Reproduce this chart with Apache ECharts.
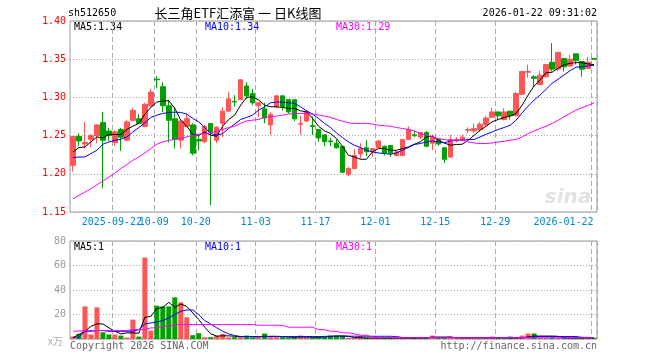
<!DOCTYPE html>
<html><head><meta charset="utf-8">
<script src="https://cdn.jsdelivr.net/npm/echarts@6/dist/echarts.min.js"></script>
<style>html,body{margin:0;padding:0;background:#fff}#c{width:660px;height:360px}</style>
</head><body><div id="c"></div>
<script>
const dates = [
'2025-09-11','2025-09-12','2025-09-15','2025-09-16','2025-09-17','2025-09-18','2025-09-19','2025-09-22','2025-09-23','2025-09-24',
'2025-09-25','2025-09-26','2025-09-29','2025-09-30','2025-10-09','2025-10-10','2025-10-13','2025-10-14','2025-10-15','2025-10-16',
'2025-10-17','2025-10-20','2025-10-21','2025-10-22','2025-10-23','2025-10-24','2025-10-27','2025-10-28','2025-10-29','2025-10-30',
'2025-10-31','2025-11-03','2025-11-04','2025-11-05','2025-11-06','2025-11-07','2025-11-10','2025-11-11','2025-11-12','2025-11-13',
'2025-11-14','2025-11-17','2025-11-18','2025-11-19','2025-11-20','2025-11-21','2025-11-24','2025-11-25','2025-11-26','2025-11-27',
'2025-11-28','2025-12-01','2025-12-02','2025-12-03','2025-12-04','2025-12-05','2025-12-08','2025-12-09','2025-12-10','2025-12-11',
'2025-12-12','2025-12-15','2025-12-16','2025-12-17','2025-12-18','2025-12-19','2025-12-22','2025-12-23','2025-12-24','2025-12-25',
'2025-12-26','2025-12-29','2025-12-30','2025-12-31','2026-01-05','2026-01-06','2026-01-07','2026-01-08','2026-01-09','2026-01-12',
'2026-01-13','2026-01-14','2026-01-15','2026-01-16','2026-01-19','2026-01-20','2026-01-21','2026-01-22'];

const opens = [
1.211,1.249,1.239,1.245,1.250,1.267,1.256,1.241,1.258,1.244,
1.270,1.272,1.262,1.289,1.324,1.314,1.289,1.272,1.244,1.262,
1.264,1.245,1.242,1.266,1.244,1.266,1.282,1.295,1.297,1.315,
1.305,1.289,1.285,1.264,1.288,1.302,1.297,1.297,1.265,1.269,
1.263,1.258,1.251,1.243,1.240,1.236,1.199,1.207,1.226,1.234,
1.230,1.234,1.236,1.237,1.224,1.224,1.245,1.251,1.248,1.254,
1.240,1.245,1.234,1.222,1.243,1.244,1.257,1.256,1.258,1.264,
1.274,1.281,1.271,1.282,1.276,1.304,1.333,1.327,1.317,1.327,
1.346,1.337,1.351,1.341,1.357,1.347,1.338,1.351];
const closes = [
1.249,1.243,1.241,1.250,1.264,1.244,1.250,1.255,1.248,1.268,
1.283,1.266,1.291,1.307,1.323,1.289,1.270,1.245,1.269,1.272,
1.227,1.243,1.262,1.255,1.261,1.282,1.298,1.294,1.323,1.302,
1.293,1.293,1.273,1.278,1.302,1.288,1.281,1.272,1.266,1.282,
1.262,1.247,1.242,1.242,1.234,1.202,1.207,1.224,1.233,1.229,
1.233,1.243,1.227,1.227,1.229,1.245,1.258,1.250,1.254,1.236,
1.248,1.239,1.219,1.245,1.245,1.248,1.258,1.259,1.265,1.273,
1.281,1.276,1.281,1.276,1.305,1.334,1.334,1.325,1.329,1.343,
1.337,1.359,1.340,1.350,1.348,1.337,1.346,1.350];
const lows = [
1.203,1.237,1.233,1.235,1.240,1.181,1.243,1.237,1.230,1.243,
1.269,1.265,1.261,1.287,1.312,1.281,1.241,1.233,1.233,1.261,
1.224,1.231,1.240,1.159,1.240,1.248,1.281,1.288,1.297,1.298,
1.290,1.274,1.266,1.251,1.286,1.283,1.279,1.269,1.251,1.268,
1.251,1.242,1.236,1.236,1.233,1.201,1.197,1.206,1.220,1.223,
1.222,1.233,1.224,1.222,1.223,1.223,1.244,1.248,1.245,1.235,
1.231,1.237,1.214,1.221,1.241,1.243,1.253,1.253,1.255,1.262,
1.273,1.271,1.270,1.271,1.275,1.303,1.326,1.314,1.316,1.326,
1.334,1.334,1.334,1.340,1.343,1.327,1.337,1.350];
const highs = [
1.249,1.253,1.268,1.252,1.265,1.281,1.260,1.257,1.260,1.270,
1.286,1.278,1.293,1.311,1.328,1.320,1.297,1.287,1.270,1.279,
1.266,1.251,1.264,1.266,1.262,1.287,1.307,1.303,1.324,1.320,
1.311,1.293,1.293,1.281,1.303,1.302,1.297,1.297,1.276,1.282,
1.275,1.258,1.251,1.247,1.245,1.236,1.209,1.232,1.240,1.244,
1.233,1.244,1.237,1.237,1.229,1.245,1.262,1.256,1.254,1.256,
1.251,1.247,1.235,1.251,1.248,1.251,1.261,1.266,1.268,1.276,
1.286,1.281,1.286,1.282,1.307,1.334,1.343,1.329,1.335,1.343,
1.371,1.359,1.351,1.356,1.357,1.347,1.353,1.351];

const ma5 = [
1.2286,1.2344,1.2351,1.2417,1.2483,1.2470,1.2514,1.2514,1.2514,1.2580,
1.2623,1.2659,1.2781,1.2869,1.2939,1.2952,1.2956,1.2856,1.2702,1.2623,
1.2514,1.2505,1.2548,1.2505,1.2492,1.2623,1.2711,1.2768,1.2899,1.3000,
1.3008,1.2965,1.2899,1.2877,1.2877,1.2869,1.2856,1.2856,1.2824,1.2811,
1.2725,1.2623,1.2562,1.2527,1.2462,1.2361,1.2242,1.2220,1.2190,1.2190,
1.2286,1.2330,1.2330,1.2308,1.2308,1.2330,1.2351,1.2387,1.2417,1.2483,
1.2492,1.2439,1.2404,1.2374,1.2383,1.2387,1.2439,1.2505,1.2571,1.2623,
1.2680,1.2711,1.2738,1.2755,1.2790,1.2899,1.3031,1.3149,1.3228,1.3324,
1.3329,1.3382,1.3425,1.3447,1.3455,1.3455,1.3438,1.3430];
const ma10 = [
1.2212,1.2220,1.2220,1.2265,1.2308,1.2387,1.2417,1.2439,1.2453,1.2483,
1.2548,1.2606,1.2667,1.2738,1.2768,1.2790,1.2803,1.2807,1.2803,1.2781,
1.2725,1.2680,1.2606,1.2527,1.2505,1.2527,1.2593,1.2650,1.2711,1.2738,
1.2768,1.2834,1.2877,1.2930,1.2939,1.2939,1.2930,1.2922,1.2877,1.2824,
1.2781,1.2725,1.2659,1.2606,1.2535,1.2475,1.2417,1.2374,1.2344,1.2308,
1.2286,1.2273,1.2265,1.2255,1.2273,1.2308,1.2344,1.2383,1.2396,1.2417,
1.2430,1.2417,1.2404,1.2430,1.2439,1.2439,1.2449,1.2449,1.2483,1.2518,
1.2548,1.2580,1.2606,1.2636,1.2702,1.2798,1.2886,1.2965,1.3031,1.3106,
1.3184,1.3237,1.3293,1.3350,1.3395,1.3403,1.3412,1.3420];
const ma30 = [
1.1673,1.1717,1.1760,1.1805,1.1857,1.1905,1.1957,1.2010,1.2068,1.2120,
1.2177,1.2220,1.2273,1.2330,1.2387,1.2417,1.2439,1.2449,1.2462,1.2483,
1.2505,1.2518,1.2527,1.2535,1.2562,1.2580,1.2606,1.2623,1.2659,1.2693,
1.2702,1.2711,1.2738,1.2746,1.2755,1.2768,1.2781,1.2790,1.2790,1.2790,
1.2781,1.2768,1.2755,1.2738,1.2711,1.2689,1.2667,1.2659,1.2659,1.2659,
1.2650,1.2636,1.2628,1.2623,1.2606,1.2593,1.2580,1.2562,1.2527,1.2505,
1.2483,1.2462,1.2449,1.2439,1.2439,1.2439,1.2417,1.2404,1.2396,1.2396,
1.2404,1.2417,1.2426,1.2439,1.2449,1.2483,1.2527,1.2562,1.2593,1.2623,
1.2659,1.2702,1.2746,1.2790,1.2834,1.2864,1.2895,1.2930];

const volumes = [
2,4.2,26.6,3.7,25.8,5.5,3.7,3.7,2.8,1.2,
15.8,2,66.5,6.9,27.2,26.6,26.6,34,29.9,17.7,
3.1,4.7,1.5,1.5,2.8,4.2,1.2,1.5,2,2.8,
1.2,1.5,4.5,1.5,1.5,1.5,1,1.5,2.8,1.5,
1.2,1.5,1.5,2.8,2.8,2.8,1,1,2.3,1.2,
1,1.2,1,1,1,1,1,1,1,1,
2.8,1,1,2,1.5,1.2,1.2,1.2,1.2,1,
2,1.2,1.2,2,1.2,2.8,4.5,4.5,1.2,1.2,
1.2,1.2,1.2,1.2,1.2,1.2,1.8,1];
const volMa5 = [
1,3.7,6.3,10.4,12.3,12.3,9.1,6.3,4.2,5,
5,4.7,17.7,18.5,24.8,25.8,29.9,25.8,28.6,26.6,
21.3,15.8,9.6,4.2,2.3,2.6,2.6,2.2,2,2,
1.8,1.8,2.2,2.2,2.2,2,1.5,1.5,1.6,1.6,
1.5,1.5,1.6,2,2.4,2.4,2.2,1.2,1,0.8,
0.8,0.8,0.8,0.8,0.8,0.8,0.8,0.8,0.8,0.8,
1.5,1.6,1.6,1.6,1,0.9,0.9,0.9,0.9,0.9,
0.9,0.9,0.9,0.9,0.9,0.9,1.8,2.4,2.4,2.4,
2.4,2.2,1,0.8,0.8,0.8,0.8,0.8];
const volMa10 = [
1.5,1.5,6.3,6.3,6.9,6.9,6.3,6.3,6.3,6.3,
6.3,7.7,12.3,13.1,14,15,17.2,19.9,22.6,23.7,
23.7,19.9,15,12.3,9.1,6.3,4.2,2.8,2,2,
2,2,2,2,2,2,2,2,2,2,
2,2,2.1,2.3,2.3,2.3,2.3,2.3,2.3,2.3,
2.2,2.2,2.2,2.2,2,1.2,1.2,1.2,1.2,1.2,
1.2,1.2,1.2,1.2,1.2,1.2,1.2,1.2,1.2,1.2,
1.2,1.2,1.2,1.2,1.2,1.2,1.2,2,2,2,
2,2,2,2,2,1.4,1.2,1.1];
const volMa30 = [
6.3,6.5,6.7,6.9,6.9,6.9,6.9,6.9,6.9,6.9,
7.7,7.7,7.7,9.1,9.1,10.4,10.4,11.8,11.8,11.8,
11.8,11.8,11.8,11.8,11.8,11.8,11.8,11.8,11.8,11.8,
11.8,11.2,11.2,11.2,11.2,11.2,9.6,9.6,9.6,9.6,
9.6,7.7,7.7,6.3,6.3,5,5,4.2,3.1,3.1,
1.5,1.5,1.5,1.5,1.5,1,1,1,1,1,
1,1,1,1,1,1,1,1,1,1,
1,1,1,1,1,1,1,1,1,1,
1,1,1,1,1,1,1,1];

const gridDates = ['2025-09-22','2025-10-09','2025-10-20','2025-11-03','2025-11-17','2025-12-01','2025-12-15','2025-12-29','2026-01-22'];
const gridLabels = ['2025-09-22','10-09','10-20','11-03','11-17','12-01','12-15','12-29','2026-01-22'];
const priceMin = 1.15, priceMax = 1.40, priceStep = 0.05;
const volMin = 0, volMax = 80, volStep = 20;

const MONO = 'DejaVu Sans Mono';
const UP = '#ff5555', DOWN = '#00a000';
const gridSet = new Set(gridDates);
const isGrid = (i, v) => gridSet.has(dates[i] !== undefined ? dates[i] : v);
// index 0 gets an empty label so the real first label is not treated as the axis's min label
const labelInterval = (i, v) => i === 0 || isGrid(i, v);

const kData = opens.map((o, i) => [o, closes[i], lows[i], highs[i]]);
const volData = volumes.map((v, i) => ({
  value: v,
  itemStyle: { color: closes[i] >= opens[i] ? UP : DOWN }
}));

const vSplit = { show: true, interval: isGrid, lineStyle: { color: '#aaa', type: [5, 3], width: 1 } };
const hSplit = { show: true, lineStyle: { color: '#aaa', type: [1, 2], width: 1 } };

function lineSeries(data, color, xi, yi) {
  return { type: 'line', data, xAxisIndex: xi, yAxisIndex: yi, symbol: 'none', silent: true,
    lineStyle: { color, width: 1 }, itemStyle: { color }, animation: false };
}

function txt(text, x, y, fill, align, font) {
  return { type: 'text', x, y, silent: true,
    style: { text, fill, align: align || 'left', verticalAlign: 'middle', font: font || ('10px ' + MONO) } };
}

const chart = echarts.init(document.getElementById('c'), null, { renderer: 'canvas' });
chart.setOption({
  animation: false,
  backgroundColor: '#fff',
  grid: [
    { left: 70, top: 21, width: 527, height: 191, show: true, borderColor: '#999', borderWidth: 1 },
    { left: 70, top: 241, width: 527, height: 98, show: true, borderColor: '#999', borderWidth: 1 }
  ],
  xAxis: [
    { type: 'category', data: dates, gridIndex: 0, boundaryGap: true,
      axisLine: { show: false }, axisTick: { show: false }, splitLine: vSplit,
      axisLabel: { show: true, interval: labelInterval, hideOverlap: false,
        margin: 5, color: '#0088cc', fontFamily: MONO, fontSize: 10,
        formatter: (v) => {
          const k = gridDates.indexOf(v);
          if (k < 0) return '';
          return (k === gridDates.length - 1 ? '{r|' : '{c|') + gridLabels[k] + '}';
        },
        rich: { c: { padding: [0, 6, 0, 0] }, r: { padding: [0, 61, 0, 0] } } } },
    { type: 'category', data: dates, gridIndex: 1, boundaryGap: true,
      axisLine: { show: false }, axisTick: { show: false }, axisLabel: { show: false }, splitLine: vSplit }
  ],
  yAxis: [
    { type: 'value', gridIndex: 0, min: priceMin, max: priceMax, interval: priceStep, scale: true,
      axisLine: { show: false }, axisTick: { show: false }, splitLine: hSplit,
      axisLabel: { color: '#ff0000', fontFamily: MONO, fontSize: 10, margin: 4, formatter: (v) => v.toFixed(2) } },
    { type: 'value', gridIndex: 1, min: volMin, max: volMax, interval: volStep,
      axisLine: { show: false }, axisTick: { show: false }, splitLine: hSplit,
      axisLabel: { color: '#999', fontFamily: MONO, fontSize: 10, margin: 4,
        formatter: (v) => v === 0 ? '{u|x万}' : String(v),
        rich: { u: { fontFamily: 'Noto Sans CJK SC', fontSize: 10, color: '#aaa', padding: [4, 3, 0, 0] } } } }
  ],
  series: [
    { type: 'candlestick', data: kData, xAxisIndex: 0, yAxisIndex: 0, barWidth: 5, silent: true,
      itemStyle: { color: UP, color0: DOWN, borderColor: UP, borderColor0: DOWN, borderWidth: 1 } },
    lineSeries(ma5, '#000000', 0, 0),
    lineSeries(ma10, '#0000ff', 0, 0),
    lineSeries(ma30, '#ff00ff', 0, 0),
    { type: 'bar', data: volData, xAxisIndex: 1, yAxisIndex: 1, barWidth: 5, silent: true },
    lineSeries(volMa5, '#000000', 1, 1),
    lineSeries(volMa10, '#0000ff', 1, 1),
    lineSeries(volMa30, '#ff00ff', 1, 1)
  ],
  graphic: [
    txt('sh512650', 68, 13, '#000'),
    txt('长三角ETF汇添富 一 日K线图', 238, 13, '#000', 'center', '13px "Noto Sans CJK SC"'),
    txt('2026-01-22 09:31:02', 597, 13, '#000', 'right'),
    txt('MA5:1.34', 74, 27, '#000'),
    txt('MA10:1.34', 205, 27, '#0000ff'),
    txt('MA30:1.29', 336, 27, '#ff00ff'),
    txt('MA5:1', 74, 247, '#000'),
    txt('MA10:1', 205, 247, '#0000ff'),
    txt('MA30:1', 336, 247, '#ff00ff'),
    txt('Copyright 2026 SINA.COM', 70, 346, '#666'),
    txt('http://finance.sina.com.cn', 597, 346, '#666', 'right'),
    txt('sina', 568, 198, '#e2e2e2', 'center', 'italic bold 20px "DejaVu Sans"')
  ]
});
</script></body></html>
